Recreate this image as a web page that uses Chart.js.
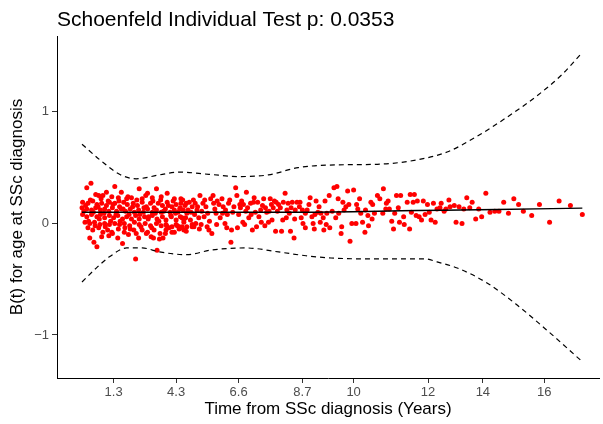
<!DOCTYPE html>
<html>
<head>
<meta charset="utf-8">
<script src="https://cdn.jsdelivr.net/npm/chart.js@4.4.1/dist/chart.umd.min.js"></script>
<style>
  html, body { margin: 0; padding: 0; background: #ffffff; }
</style>
</head>
<body>
<canvas id="zphChart" width="603" height="424"></canvas>
<script>
// x is the transformed (km-scaled) time, 0..91 across the panel
const xTickPos = [9.5, 20.0, 30.5, 41.2, 49.8, 62.3, 71.5, 81.8];
const xTickLabels = ["1.3", "4.3", "6.6", "8.7", "10", "12", "14", "16"];
const yTicks = [-1, 0, 1];

// spline fit of the residuals and its +/- 2 se band
const smoothFit = [
  [4.2, 0.10], [23.8, 0.10], [40.5, 0.10], [60.5, 0.115], [73.8, 0.125], [88.2, 0.137]
];
const upperBand = [
  [4.2, 0.71], [7.2, 0.57], [10.5, 0.44], [13.3, 0.40], [17.2, 0.435], [20.5, 0.46],
  [25.5, 0.44], [30.5, 0.42], [35.5, 0.435], [40.5, 0.50], [47.2, 0.525], [53.8, 0.53],
  [60.5, 0.57], [65.5, 0.64], [70.5, 0.78], [75.5, 0.95], [80.5, 1.14], [84.7, 1.33], [88.0, 1.52]
];
const lowerBand = [
  [4.2, -0.525], [6.8, -0.39], [8.8, -0.30], [11.7, -0.22], [14.3, -0.22], [17.2, -0.256],
  [21.8, -0.28], [26.0, -0.238], [31.7, -0.22], [37.2, -0.256], [41.8, -0.29], [46.0, -0.31],
  [51.7, -0.318], [57.2, -0.318], [61.8, -0.318], [63.8, -0.345], [67.2, -0.40], [72.2, -0.534],
  [77.2, -0.73], [82.2, -0.955], [88.2, -1.24]
];

// scaled Schoenfeld residuals [time, residual]
const residuals = [
  [5.7, 0.36], [5.0, 0.32], [9.7, 0.33], [13.8, 0.31], [16.7, 0.31], [8.3, 0.28], [10.8, 0.28],
  [15.2, 0.27], [18.5, 0.27], [6.5, 0.26], [7.0, 0.25], [7.7, 0.25], [9.2, 0.24], [10.3, 0.23],
  [11.7, 0.22], [12.5, 0.23], [14.3, 0.22], [16.0, 0.23], [17.5, 0.24], [19.7, 0.22], [20.8, 0.22],
  [4.3, 0.19], [5.2, 0.18], [6.0, 0.20], [6.7, 0.17], [7.5, 0.18], [8.3, 0.16], [8.8, 0.19],
  [9.7, 0.18], [10.5, 0.15], [11.2, 0.19], [11.8, 0.17], [12.8, 0.18], [13.5, 0.16], [14.3, 0.19],
  [15.0, 0.15], [15.7, 0.18], [16.3, 0.14], [17.0, 0.18], [17.7, 0.16], [18.5, 0.19], [19.3, 0.15],
  [20.0, 0.17], [20.8, 0.18], [21.5, 0.16],
  [4.2, 0.14], [5.0, 0.13], [5.8, 0.12], [6.5, 0.14], [7.3, 0.12], [8.0, 0.13], [8.7, 0.11],
  [9.3, 0.14], [10.0, 0.11], [10.8, 0.13], [11.5, 0.11], [12.3, 0.13], [13.0, 0.10], [13.7, 0.12],
  [14.5, 0.10], [15.2, 0.13], [16.0, 0.10], [16.7, 0.12], [17.5, 0.10], [18.2, 0.13], [19.0, 0.10],
  [19.7, 0.12], [20.3, 0.10], [21.2, 0.12],
  [4.3, 0.08], [5.0, 0.06], [5.8, 0.08], [6.7, 0.06], [7.3, 0.08], [8.0, 0.05], [8.8, 0.07],
  [9.5, 0.05], [10.2, 0.07], [11.0, 0.04], [11.7, 0.06], [12.5, 0.04], [13.2, 0.07], [13.8, 0.04],
  [14.7, 0.06], [15.3, 0.04], [16.0, 0.07], [16.8, 0.04], [17.7, 0.06], [18.3, 0.03], [19.2, 0.06],
  [20.0, 0.03], [20.7, 0.06], [21.3, 0.03],
  [4.7, 0.01], [5.5, 0.00], [6.3, 0.01], [7.2, -0.01], [8.0, 0.00], [8.8, -0.01], [9.7, 0.00],
  [10.5, -0.01], [11.3, 0.00], [12.2, -0.02], [13.0, 0.01], [13.8, -0.01], [14.8, 0.00], [15.7, -0.02],
  [16.7, 0.00], [17.5, -0.02], [18.3, -0.01], [19.3, -0.03], [20.0, -0.01], [21.0, -0.03],
  [5.2, -0.04], [6.0, -0.06], [7.0, -0.04], [7.7, -0.08], [8.5, -0.06], [9.3, -0.09], [10.3, -0.05],
  [11.3, -0.08], [12.3, -0.05], [13.3, -0.09], [14.3, -0.06], [15.2, -0.08], [16.3, -0.06], [17.3, -0.09],
  [18.3, -0.06], [19.3, -0.08], [20.5, -0.05], [21.7, -0.07],
  [5.5, -0.13], [6.2, -0.17], [6.7, -0.21], [7.5, -0.12], [8.7, -0.11], [9.2, -0.08], [10.2, -0.13],
  [11.0, -0.18], [12.0, -0.10], [13.7, -0.13], [13.2, -0.32], [15.0, -0.09], [15.8, -0.12], [16.2, -0.13],
  [16.8, -0.24], [17.2, -0.14], [17.8, -0.13], [18.2, -0.09], [18.8, -0.04], [19.7, -0.08], [20.5, -0.03],
  [21.3, -0.06], [21.8, -0.03], [22.7, -0.03], [23.3, 0.00],
  [4.5, 0.11], [4.8, 0.16], [5.3, 0.02], [5.6, 0.21], [6.1, 0.10], [6.4, -0.02], [6.9, 0.15],
  [7.1, 0.04], [7.4, 0.22], [7.9, 0.09], [8.1, -0.03], [8.6, 0.20], [9.0, 0.02], [9.4, 0.17],
  [9.9, 0.08], [10.4, 0.20], [10.6, 0.02], [11.1, 0.13], [11.4, -0.04], [11.9, 0.24], [12.1, 0.08],
  [12.7, 0.15], [12.9, -0.06], [13.4, 0.21], [13.9, 0.08], [14.1, -0.03], [14.6, 0.14], [14.9, 0.25],
  [15.4, 0.06], [15.9, -0.04], [16.1, 0.20], [16.5, 0.09], [17.1, 0.02], [17.4, 0.21], [17.9, 0.11],
  [18.4, -0.02], [18.7, 0.16], [19.1, 0.07], [19.5, 0.20], [19.9, 0.09], [20.2, -0.02], [20.6, 0.13],
  [21.1, 0.21], [21.6, 0.05], [22.0, 0.12], [22.4, 0.03], [22.9, 0.21], [23.1, 0.08], [23.6, 0.15],
  [23.9, -0.05],
  [20.7, 0.14], [21.0, 0.05], [21.3, 0.01], [21.0, -0.04], [21.7, 0.18], [21.8, 0.09], [22.2, 0.19],
  [22.5, 0.10], [22.7, 0.15], [22.7, -0.01], [23.0, -0.03], [23.2, 0.18], [23.5, 0.12], [24.0, 0.25],
  [23.8, 0.05], [24.2, -0.01], [24.5, 0.18], [24.7, 0.06], [25.0, 0.15], [25.2, -0.03], [25.5, -0.06],
  [25.8, 0.22], [26.0, -0.09], [26.2, 0.25], [26.3, 0.18], [26.7, 0.09], [26.8, -0.01], [27.2, 0.17],
  [27.7, 0.22], [27.8, 0.09], [28.2, 0.00], [28.3, 0.12], [28.5, -0.04], [28.8, 0.18], [29.2, -0.17],
  [29.3, -0.06], [29.5, 0.10], [30.0, 0.32], [30.2, 0.25], [30.3, -0.04], [30.7, 0.17], [30.8, 0.14],
  [31.2, 0.01], [31.3, 0.17], [31.7, 0.11], [31.8, 0.28], [32.2, 0.05], [32.5, 0.18], [32.8, -0.06],
  [33.0, 0.19], [33.3, 0.10], [33.5, -0.03], [33.7, 0.19], [34.2, 0.12], [34.3, 0.01], [34.7, 0.22],
  [35.0, 0.14], [35.2, 0.10], [35.5, 0.01], [35.8, 0.22], [36.0, 0.17], [36.3, 0.14], [36.7, -0.07],
  [36.8, 0.19], [37.2, 0.17], [37.7, -0.07], [38.0, 0.19], [38.3, 0.27], [38.5, 0.05], [38.8, 0.18],
  [39.2, -0.07], [39.5, 0.19], [39.8, -0.13], [40.0, 0.12], [40.3, 0.19],
  [24.3, 0.11], [24.8, 0.21], [25.3, 0.09], [25.6, 0.02], [26.5, 0.13], [26.9, 0.20], [27.4, 0.05],
  [27.9, 0.15], [28.6, 0.08], [29.0, 0.21], [29.7, 0.15], [30.5, 0.08], [31.0, 0.20], [31.5, -0.01],
  [32.0, 0.14], [32.6, 0.08], [33.1, 0.23], [33.9, 0.06], [34.5, 0.16], [34.9, -0.02], [35.6, 0.11],
  [36.1, 0.03], [36.5, 0.20], [37.0, 0.11], [37.5, 0.14], [37.9, 0.03], [38.6, 0.12], [39.0, 0.09],
  [39.3, 0.14], [39.9, 0.04],
  [40.8, 0.19], [40.7, 0.15], [41.2, 0.12], [41.0, 0.05], [41.7, 0.09], [41.3, 0.00], [41.7, -0.04],
  [42.3, 0.17], [42.5, 0.23], [43.0, 0.00], [43.2, -0.05], [43.5, 0.20], [43.3, 0.08], [43.8, 0.10],
  [44.2, 0.01], [44.3, 0.09], [44.7, 0.05], [44.8, -0.06], [45.2, -0.01], [45.3, 0.09], [45.7, 0.25],
  [45.8, -0.04], [46.2, 0.11], [46.5, 0.32], [47.0, 0.33], [47.2, 0.22], [47.3, 0.09], [47.7, -0.09],
  [47.8, -0.03], [48.2, 0.12], [48.5, 0.15], [48.8, 0.29], [49.2, -0.16], [49.0, 0.17], [49.5, 0.00],
  [49.8, 0.30], [50.2, 0.00], [50.3, 0.17], [50.8, 0.22], [51.0, 0.09], [51.3, 0.01], [51.7, -0.08],
  [51.8, 0.12], [52.3, -0.02], [52.2, 0.07], [52.7, 0.19], [53.0, 0.17], [53.3, 0.09], [53.8, 0.25],
  [54.2, 0.22], [54.7, 0.09], [54.8, 0.31], [55.2, 0.13], [55.3, 0.18], [55.8, 0.13], [56.2, 0.02],
  [56.7, 0.09], [56.5, -0.05], [57.0, 0.25], [57.5, 0.01], [57.7, 0.25], [58.2, 0.06], [58.3, -0.01],
  [58.8, 0.19], [59.2, -0.05], [59.3, 0.26], [59.8, 0.19], [60.0, 0.26], [60.3, 0.07],
  [42.0, 0.12], [42.8, 0.06], [44.0, 0.15], [45.0, 0.20], [46.8, 0.05], [48.0, 0.19], [50.5, 0.13],
  [52.9, 0.04], [55.6, 0.20], [57.3, 0.14], [59.5, 0.10],
  [60.5, 0.20], [61.5, 0.20], [62.2, 0.17], [63.2, 0.18], [60.8, 0.06], [61.2, 0.03], [61.8, 0.08],
  [62.5, 0.10], [62.8, 0.03], [63.5, 0.01], [63.8, 0.13], [64.3, 0.14], [64.5, 0.18], [65.0, 0.11],
  [65.3, 0.13], [65.8, 0.21], [66.0, 0.15], [66.7, 0.16], [67.0, 0.01], [67.5, 0.15], [68.0, 0.00],
  [68.3, 0.13], [68.8, 0.23], [69.3, 0.14], [69.7, 0.19], [70.3, 0.04], [70.8, 0.13], [71.3, 0.06],
  [72.0, 0.27], [72.7, 0.10], [73.5, 0.11], [74.2, 0.11], [75.0, 0.19], [75.8, 0.09], [76.7, 0.22],
  [77.5, 0.17], [78.3, 0.11], [79.7, 0.07], [81.0, 0.17], [82.7, 0.01], [84.3, 0.20], [86.2, 0.16],
  [88.2, 0.08]
];

const toXY = (pairs) => pairs.map(([x, y]) => ({ x: x, y: y }));

Chart.defaults.font.family = '"Liberation Sans", Arial, Helvetica, sans-serif';

const ctx = document.getElementById("zphChart");
new Chart(ctx, {
  type: "scatter",
  data: {
    datasets: [
      {
        type: "line",
        data: toXY(smoothFit),
        borderColor: "#000000",
        borderWidth: 1.4,
        pointRadius: 0,
        cubicInterpolationMode: "monotone",
        fill: false,
      },
      {
        type: "line",
        data: toXY(upperBand),
        borderColor: "#000000",
        borderWidth: 1.2,
        borderDash: [5, 4],
        pointRadius: 0,
        cubicInterpolationMode: "monotone",
        fill: false,
      },
      {
        type: "line",
        data: toXY(lowerBand),
        borderColor: "#000000",
        borderWidth: 1.2,
        borderDash: [5, 4],
        pointRadius: 0,
        cubicInterpolationMode: "monotone",
        fill: false,
      },
      {
        data: toXY(residuals),
        pointRadius: 2.5,
        pointBackgroundColor: "#ff0000",
        pointBorderWidth: 0,
        backgroundColor: "#ff0000",
      },
    ],
  },
  options: {
    responsive: false,
    animation: false,
    layout: { padding: 0 },
    plugins: {
      legend: { display: false },
      tooltip: { enabled: false },
      title: {
        display: true,
        text: "Schoenfeld Individual Test p: 0.0353",
        align: "start",
        fullSize: false,
        color: "#000000",
        font: { size: 21, weight: "normal", lineHeight: 1.2 },
        padding: { top: 7.4, bottom: 3.4 },
      },
    },
    scales: {
      x: {
        type: "linear",
        min: 0,
        max: 91,
        afterBuildTicks: (scale) => {
          scale.ticks = xTickPos.map((v) => ({ value: v }));
        },
        afterFit: (scale) => {
          scale.height = 46;
        },
        ticks: {
          autoSkip: false,
          maxRotation: 0,
          color: "#4d4d4d",
          font: { size: 13 },
          padding: 2,
          callback: (value, index) => xTickLabels[index],
        },
        grid: { drawOnChartArea: false, drawTicks: true, tickLength: 5, color: "#333333" },
        border: { display: true, color: "#000000", width: 1 },
        title: {
          display: true,
          text: "Time from SSc diagnosis (Years)",
          color: "#000000",
          font: { size: 17 },
          padding: { top: 0, bottom: 4 },
        },
      },
      y: {
        type: "linear",
        min: -1.386,
        max: 1.68,
        afterBuildTicks: (scale) => {
          scale.ticks = yTicks.map((v) => ({ value: v }));
        },
        afterFit: (scale) => {
          scale.width = 57;
        },
        ticks: {
          color: "#4d4d4d",
          font: { size: 13 },
          padding: 3,
          callback: (value) => (value < 0 ? "\u2212" + Math.abs(value) : String(value)),
        },
        grid: { drawOnChartArea: false, drawTicks: true, tickLength: 5, color: "#333333" },
        border: { display: true, color: "#000000", width: 1 },
        title: {
          display: true,
          text: "B(t) for age at SSc diagnosis",
          color: "#000000",
          font: { size: 17 },
          padding: { top: 7.4, bottom: 0 },
        },
      },
    },
  },
});
</script>
</body>
</html>
